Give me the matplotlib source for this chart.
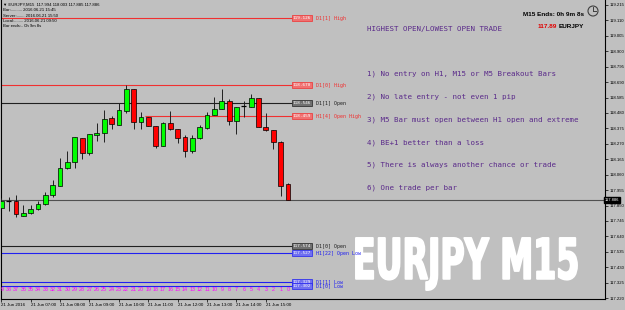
import numpy as np
import matplotlib
matplotlib.use('Agg')
import matplotlib.pyplot as plt
from matplotlib.textpath import TextPath
from matplotlib.patches import PathPatch, Circle
from matplotlib.font_manager import FontProperties
from matplotlib.transforms import Affine2D, blended_transform_factory

### Data ###

# EURJPY M15, 21 Jun 2016 06:00 .. 15:45 (40 bars)
opens  = [117.835, 117.881, 117.881, 117.781, 117.797, 117.824, 117.858, 117.922, 117.985, 118.103,
          118.144, 118.310, 118.206, 118.332, 118.342, 118.446, 118.398, 118.495, 118.643, 118.421,
          118.455, 118.391, 118.255, 118.410, 118.371, 118.314, 118.223, 118.312, 118.380, 118.466,
          118.507, 118.562, 118.427, 118.527, 118.523, 118.580, 118.387, 118.364, 118.284, 117.994]
highs  = [117.899, 117.906, 117.922, 117.854, 117.852, 117.881, 117.940, 118.024, 118.176, 118.221,
          118.314, 118.310, 118.335, 118.410, 118.500, 118.459, 118.550, 118.670, 118.643, 118.489,
          118.455, 118.391, 118.421, 118.493, 118.371, 118.330, 118.330, 118.396, 118.485, 118.591,
          118.641, 118.573, 118.523, 118.564, 118.609, 118.580, 118.482, 118.364, 118.291, 118.003]
lows   = [117.833, 117.815, 117.770, 117.779, 117.792, 117.820, 117.854, 117.906, 117.985, 118.097,
          118.107, 118.169, 118.194, 118.291, 118.284, 118.373, 118.398, 118.478, 118.373, 118.369,
          118.393, 118.240, 118.255, 118.364, 118.278, 118.182, 118.206, 118.303, 118.369, 118.466,
          118.507, 118.398, 118.335, 118.455, 118.523, 118.382, 118.359, 118.235, 117.915, 117.885]
closes = [117.881, 117.880, 117.792, 117.797, 117.826, 117.860, 117.922, 117.990, 118.103, 118.148,
          118.314, 118.206, 118.335, 118.342, 118.441, 118.403, 118.500, 118.643, 118.421, 118.455,
          118.393, 118.255, 118.410, 118.373, 118.312, 118.223, 118.308, 118.387, 118.468, 118.507,
          118.562, 118.427, 118.523, 118.527, 118.580, 118.382, 118.364, 118.284, 117.985, 117.886]

bid = 117.886

time_ticks = [0, 4, 8, 12, 16, 20, 24, 28, 32, 36]
time_labels = ['21 Jun 2016', '21 Jun 07:00', '21 Jun 08:00', '21 Jun 09:00', '21 Jun 10:00',
               '21 Jun 11:00', '21 Jun 12:00', '21 Jun 13:00', '21 Jun 14:00', '21 Jun 15:00']

price_ticks = [117.220, 117.325, 117.430, 117.535, 117.640, 117.745, 117.850, 117.955, 118.060,
               118.165, 118.270, 118.375, 118.480, 118.585, 118.690, 118.795, 118.900, 119.005,
               119.110, 119.215]

level_prices = [119.126, 118.670, 118.546, 118.459, 117.574, 117.527, 117.329, 117.302]
level_names  = ['D1[1] High', 'D1[0] High', 'D1[1] Open', 'H1[4] Open High',
                'D1[0] Open', 'H1[22] Open Low', 'D1[1] Low', 'D1[0] Low']
level_start  = [0, 0, 0, 20, 0, 0, 0, 0]
level_kind   = ['high', 'high', 'open', 'high', 'open', 'low', 'low', 'low']

rules = ['1) No entry on H1, M15 or M5 Breakout Bars',
         '2) No late entry - not even 1 pip',
         '3) M5 Bar must open between H1 open and extreme',
         '4) BE+1 better than a loss',
         '5) There is always another chance or trade',
         '6) One trade per bar']

info_lines = ['\u25bc EURJPY,M15  117.994 118.003 117.885 117.886',
              'Bar:.......... 2016.06.21 15:45',
              'Server:....... 2016.06.21 15:50',
              'Local:........ 2016.06.21 09:50',
              'Bar ends:.. 0h 9m 8s']

### Styles ###

W, H = 625, 310
BG = '#c0c0c0'
PURPLE = '#5a2a8a'
SMALL = 'Liberation Sans'
kind_line = {'high': '#f03030', 'open': '#202020', 'low': '#2020f0'}
kind_box = {'high': '#f07070', 'open': '#707070', 'low': '#7070f0'}

def fx(px):
    return px / W

def fy(py):
    return 1 - py / H

fig = plt.figure(figsize=(W / 100, H / 100), dpi=100, facecolor=BG)
ax = fig.add_axes([fx(1), 11 / H, 604 / W, 299 / H])
ax.set_facecolor(BG)

xs = np.arange(len(opens))

# watermark, behind everything else in the axes
tp = TextPath((0, 0), 'EURJPY M15', size=100,
              prop=FontProperties(family='DejaVu Sans', weight='bold'))
ext = tp.get_extents()
tr = (Affine2D().translate(-ext.x0, -ext.y0)
      .scale((577 - 356) / ext.width / W, (290 - 238) / ext.height / H)
      .translate(fx(356), fy(290)))
ax.add_artist(PathPatch(tr.transform_path(tp), facecolor='white', edgecolor='white', lw=1.4,
                        joinstyle='round', transform=fig.transFigure, zorder=0.5, clip_on=False))

# candles
for i in xs:
    o, h, l, c = opens[i], highs[i], lows[i], closes[i]
    ax.vlines(i, l, h, color='#202020', lw=0.7, zorder=3)
    if abs(c - o) < 0.002:
        ax.hlines(o, i - 0.33, i + 0.33, color='black', lw=0.9, zorder=4)
    else:
        col = '#00ff00' if c > o else '#ff0000'
        ax.bar(i, abs(c - o), bottom=min(o, c), width=0.65, color=col,
               edgecolor='black', lw=0.5, zorder=4)

# level lines with price boxes and names
lab_x = 39.55
for p, name, x0, kind in zip(level_prices, level_names, level_start, level_kind):
    ax.hlines(p, x0 - 0.5, lab_x, color=kind_line[kind], lw=0.8, zorder=2)
    ax.text(lab_x + 0.1, p, f'{p:.3f}', fontsize=3.2, family='DejaVu Sans Mono',
            color='white', ha='left', va='center', zorder=5,
            bbox=dict(boxstyle='square,pad=0.25', fc=kind_box[kind],
                      ec=kind_line[kind], lw=0.5))
    ax.text(42.8, p, name, fontsize=3.6, family='DejaVu Sans Mono',
            color=kind_line[kind], ha='left', va='center', zorder=5)

# bid line
ax.axhline(bid, color='#505050', lw=0.8, zorder=2)
ax.text(1.0, bid, f'{bid:.3f}', transform=blended_transform_factory(ax.transAxes, ax.transData),
        fontsize=3.0, family=SMALL, color='white', ha='left', va='center', clip_on=False,
        bbox=dict(boxstyle='square,pad=0.2', fc='black', ec='black'))

# bar numbers
for i in xs[1:]:
    ax.text(i, 117.282, str(len(xs) - 1 - i), color='#ff00ff', fontsize=3.9,
            family=SMALL, ha='center', va='center', zorder=5)
ax.text(-0.05, 117.282, '9', color='#ff00ff', fontsize=3.9, family=SMALL,
        ha='left', va='center', zorder=5)

ax.set_xlim(-0.04, 82.14)
ax.set_ylim(117.214, 119.249)

ax.yaxis.tick_right()
ax.set_yticks(price_ticks)
ax.set_yticklabels([f'{t:.3f}' for t in price_ticks], family=SMALL)
ax.tick_params(axis='y', labelsize=3.1, length=2, width=0.5, pad=1, colors='black')
ax.set_xticks(time_ticks)
ax.set_xticklabels(time_labels, ha='left', family=SMALL)
ax.tick_params(axis='x', labelsize=3.2, length=2, width=0.5, pad=1)
ax.spines['top'].set_visible(False)
for s in ['left', 'right', 'bottom']:
    ax.spines[s].set_linewidth(0.8)

### Text overlays ###

for k, line in enumerate(info_lines):
    fig.text(fx(3), fy(5 + 5.3 * k), line, fontsize=3.1, family=SMALL, color='black',
             ha='left', va='center')

fig.text(fx(367), fy(29), 'HIGHEST OPEN/LOWEST OPEN TRADE', fontsize=5.4,
         family='DejaVu Sans Mono', color=PURPLE, ha='left', va='center')
for k, r in enumerate(rules):
    fig.text(fx(367), fy(74 + 22.8 * k), r, fontsize=5.4,
             family='DejaVu Sans Mono', color=PURPLE, ha='left', va='center')

fig.text(fx(584), fy(14), 'M15 Ends: 0h 9m 8s', fontsize=4.6, family=SMALL,
         weight='bold', color='black', ha='right', va='center')
fig.text(fx(557), fy(26.5), '117.89', fontsize=4.6, family=SMALL,
         weight='bold', color='#e00000', ha='right', va='center')
fig.text(fx(584), fy(26.5), 'EURJPY', fontsize=4.6, family=SMALL,
         weight='bold', color='black', ha='right', va='center')

# clock icon
cx, cy = 593 / 100, (H - 11) / 100
fig.add_artist(Circle((cx, cy), 0.05, transform=fig.dpi_scale_trans,
                      fc='none', ec='#404040', lw=0.8))
fig.add_artist(plt.Line2D([cx, cx], [cy, cy + 0.035], transform=fig.dpi_scale_trans,
                          color='#404040', lw=0.7))
fig.add_artist(plt.Line2D([cx, cx + 0.025], [cy, cy], transform=fig.dpi_scale_trans,
                          color='#404040', lw=0.7))

fig.savefig('out.png', dpi=100, facecolor=BG)
